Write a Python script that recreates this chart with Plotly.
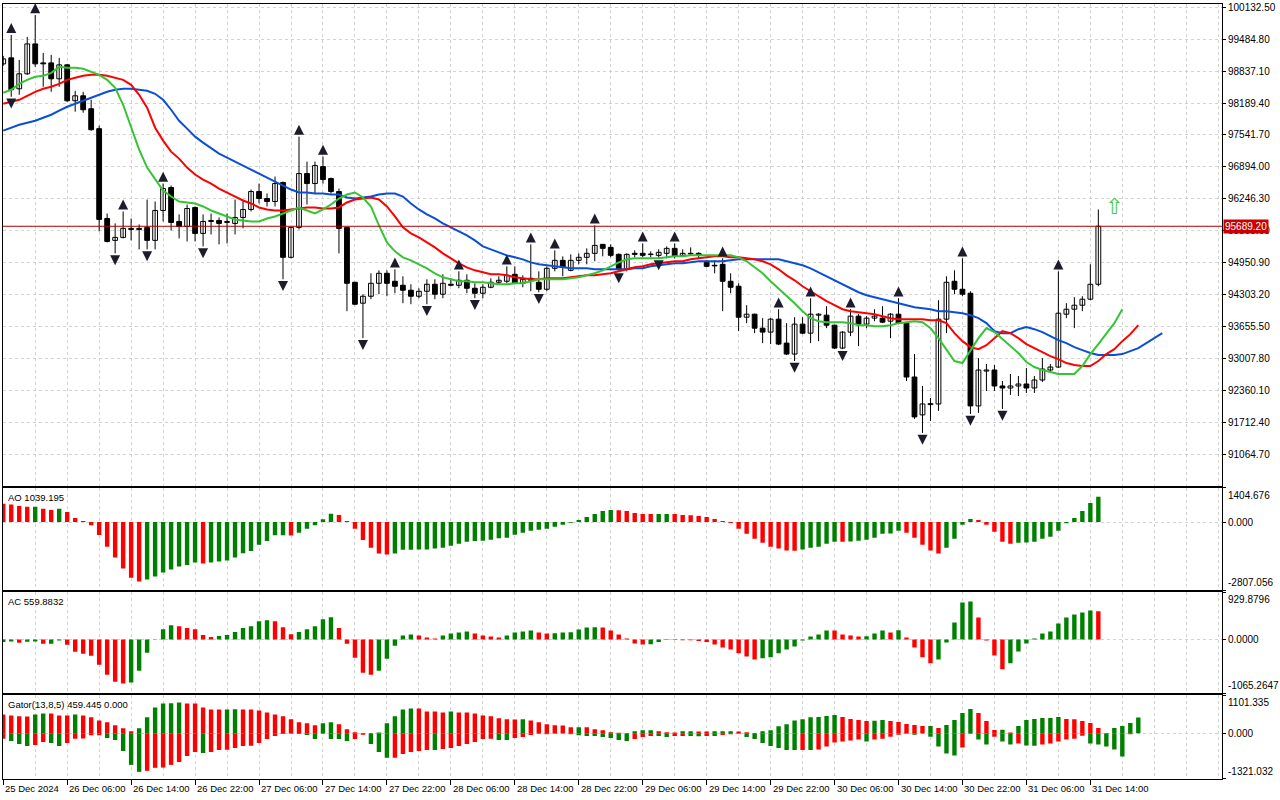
import plotly.graph_objects as go

# ---------------- data ----------------
tick_labels = ["25 Dec 2024", "26 Dec 06:00", "26 Dec 14:00", "26 Dec 22:00", "27 Dec 06:00",
               "27 Dec 14:00", "27 Dec 22:00", "28 Dec 06:00", "28 Dec 14:00", "28 Dec 22:00",
               "29 Dec 06:00", "29 Dec 14:00", "29 Dec 22:00", "30 Dec 06:00", "30 Dec 14:00",
               "30 Dec 22:00", "31 Dec 06:00", "31 Dec 14:00"]
tick_bars = [0, 8, 16, 24, 32, 40, 48, 56, 64, 72, 80, 88, 96, 104, 112, 120, 128, 136]

price_ticks = [91064.70, 91712.40, 92360.10, 93007.80, 93655.50, 94303.20, 94950.90, 95598.60,
               96246.30, 96894.00, 97541.70, 98189.40, 98837.10, 99484.80, 100132.50]

open_ = [98985, 99107, 98479, 98783, 99390, 99005, 99005, 98682, 98965, 98236,
         98337, 98074, 97670, 95848, 95403, 95463, 95646, 95646, 95666, 95403,
         96010, 96475, 95787, 95686, 96071, 95544, 95787, 95807, 95767, 95747,
         95868, 96030, 96394, 96253, 96192, 96577, 95059, 95666, 96759, 96556,
         96900, 96658, 96394, 95666, 94553, 94128, 94269, 94532, 94735, 94573,
         94492, 94391, 94269, 94370, 94512, 94310, 94512, 94492, 94593, 94431,
         94330, 94451, 94553, 94573, 94714, 94532, 94593, 94553, 94411, 94836,
         94998, 94795, 94998, 95059, 95140, 95322, 95261, 95119, 94816, 95140,
         95140, 95115, 95099, 95140, 95241, 95099, 95140, 95140, 94978, 94897,
         94917, 94573, 94472, 93844, 93905, 93621, 93541, 93804, 93318, 93096,
         93703, 93520, 93885, 93885, 93682, 93217, 93541, 93865, 93703, 93824,
         93824, 93763, 93905, 93723, 92630, 91861, 92070, 92083, 93804, 94573,
         94411, 94330, 92043, 92751, 92772, 92448, 92407, 92448, 92488, 92407,
         92569, 92772, 92832, 93905, 94006, 94087, 94209, 94512]
high = [99147, 99572, 99066, 99532, 99977, 99208, 99167, 99107, 98985, 98439,
        98418, 98256, 97730, 95949, 95747, 95990, 95848, 95726, 96232, 96192,
        96556, 96516, 95929, 96131, 96091, 95929, 95949, 95868, 95949, 96232,
        96232, 96435, 96556, 96354, 96698, 96597, 95680, 97508, 97002, 97002,
        97103, 96678, 96455, 95680, 94560, 94310, 94735, 94795, 94795, 94816,
        94674, 94512, 94431, 94613, 94613, 94714, 94633, 94775, 94714, 94532,
        94512, 94633, 94674, 94876, 94876, 94694, 95322, 94775, 94876, 95200,
        95079, 95119, 95140, 95241, 95706, 95330, 95322, 95140, 95140, 95200,
        95342, 95180, 95220, 95281, 95342, 95220, 95261, 95160, 95000, 94998,
        95038, 94735, 94532, 94087, 93915, 93824, 93824, 94006, 93723, 93844,
        93844, 94229, 93925, 94067, 93690, 93561, 94006, 93905, 93865, 94006,
        94067, 93925, 94229, 93730, 93096, 92448, 92205, 94188, 94674, 94795,
        95038, 94370, 93014, 92893, 92873, 92549, 92691, 92650, 92812, 92650,
        93014, 92893, 94775, 94128, 94249, 94269, 94917, 96030]
low = [98945, 98317, 98358, 98762, 98924, 98520, 98418, 98520, 98216, 98014,
       97993, 97629, 95585, 95362, 95140, 95443, 95403, 95220, 95220, 95220,
       95787, 95605, 95443, 95382, 95382, 95281, 95524, 95322, 95342, 95524,
       95646, 95990, 96152, 96091, 96091, 94613, 95038, 95625, 96131, 96354,
       96556, 96354, 95140, 93966, 94087, 93419, 94209, 94310, 94269, 94330,
       94128, 94107, 94229, 94107, 94209, 94229, 94472, 94431, 94330, 94229,
       94229, 94431, 94512, 94532, 94512, 94451, 94370, 94350, 94370, 94775,
       94674, 94775, 94917, 94917, 94978, 95079, 95059, 94775, 94775, 95059,
       95059, 95059, 95038, 95038, 95038, 95079, 95099, 95038, 94856, 94735,
       93966, 94330, 93561, 93723, 93520, 93318, 93298, 93277, 93075, 92954,
       93500, 93318, 93358, 93622, 93197, 93197, 93460, 93257, 93622, 93763,
       93723, 93419, 93703, 92549, 91780, 91496, 91739, 91942, 93520, 94310,
       94269, 91881, 91901, 92346, 92346, 91982, 92266, 92245, 92306, 92306,
       92529, 92711, 92812, 93824, 93622, 93966, 94188, 94472]
close = [99086, 98459, 98783, 99390, 98985, 98985, 98682, 98965, 98236, 98337,
         98054, 97649, 95828, 95382, 95463, 95646, 95625, 95625, 95403, 96010,
         96455, 95767, 95686, 96050, 95544, 95787, 95807, 95747, 95787, 95868,
         96030, 96394, 96253, 96192, 96556, 95059, 95666, 96759, 96556, 96921,
         96637, 96394, 95646, 94532, 94107, 94269, 94532, 94735, 94532, 94472,
         94391, 94269, 94370, 94512, 94310, 94532, 94492, 94593, 94431, 94330,
         94451, 94553, 94593, 94694, 94532, 94613, 94633, 94411, 94836, 94998,
         94856, 94998, 95059, 95140, 95301, 95241, 95099, 94816, 95119, 95119,
         95099, 95125, 95160, 95241, 95079, 95140, 95128, 95099, 94876, 94885,
         94573, 94451, 93844, 93905, 93621, 93541, 93804, 93298, 93096, 93703,
         93520, 93905, 93905, 93682, 93217, 93541, 93865, 93703, 93824, 93865,
         93743, 93905, 93723, 92630, 91820, 92083, 92090, 93804, 94553, 94411,
         94310, 92043, 92772, 92772, 92448, 92407, 92448, 92488, 92407, 92569,
         92792, 92832, 93925, 94006, 94087, 94209, 94512, 95689.20]

# Alligator (already shifted forward: jaw 8, teeth 5, lips 3 bars)
jaw = [97629, 97690, 97750, 97791, 97831, 97892, 97953, 98034, 98115, 98175,
       98236, 98297, 98358, 98418, 98459, 98479, 98479, 98459, 98439, 98378,
       98256, 98054, 97831, 97670, 97508, 97386, 97265, 97163, 97083, 97002,
       96921, 96840, 96759, 96678, 96597, 96516, 96435, 96374, 96374, 96354,
       96354, 96334, 96334, 96273, 96253, 96273, 96293, 96334, 96354, 96354,
       96293, 96152, 96030, 95929, 95848, 95747, 95666, 95585, 95504, 95403,
       95281, 95220, 95160, 95099, 95059, 95018, 94957, 94917, 94897, 94876,
       94856, 94836, 94836, 94836, 94816, 94816, 94816, 94816, 94816, 94836,
       94836, 94876, 94897, 94917, 94937, 94937, 94957, 94978, 94978, 94978,
       94978, 94998, 95018, 95018, 95018, 95018, 95018, 95018, 94978, 94937,
       94897, 94836, 94755, 94674, 94593, 94512, 94431, 94350, 94289, 94249,
       94209, 94168, 94128, 94087, 94047, 94026, 94006, 93966, 93966, 93945,
       93925, 93885, 93824, 93723, 93561, 93520, 93520, 93601, 93642, 93601,
       93541, 93460, 93379, 93318, 93237, 93176, 93116, 93075, 93075, 93075,
       93095, 93156, 93217, 93318, 93419, 93520]
teeth = [98175, 98216, 98256, 98337, 98418, 98479, 98520, 98580, 98661, 98702,
         98742, 98762, 98762, 98742, 98702, 98661, 98560, 98358, 98095, 97690,
         97427, 97204, 97062, 96880, 96739, 96637, 96556, 96455, 96374, 96293,
         96212, 96152, 96071, 96030, 96010, 96010, 96030, 96050, 96071, 96071,
         96050, 96050, 96071, 96172, 96232, 96253, 96273, 96232, 96091, 95889,
         95666, 95544, 95463, 95362, 95261, 95140, 95038, 94937, 94856, 94795,
         94755, 94714, 94714, 94694, 94654, 94633, 94613, 94613, 94633, 94633,
         94633, 94654, 94674, 94694, 94694, 94714, 94735, 94775, 94816, 94856,
         94876, 94917, 94937, 94957, 94978, 94978, 95018, 95038, 95059, 95079,
         95079, 95059, 95059, 95038, 95018, 94978, 94917, 94816, 94694, 94593,
         94472, 94370, 94269, 94168, 94087, 94006, 93966, 93945, 93925, 93905,
         93864, 93824, 93804, 93804, 93804, 93804, 93783, 93783, 93723, 93520,
         93358, 93237, 93196, 93277, 93419, 93561, 93520, 93419, 93298, 93217,
         93136, 93055, 92994, 92913, 92873, 92852, 92852, 92954, 93095, 93196,
         93358, 93500, 93682]
lips = [98398, 98459, 98580, 98661, 98722, 98742, 98803, 98924, 98904, 98904,
        98884, 98823, 98762, 98661, 98499, 98155, 97710, 97244, 96880, 96637,
        96415, 96293, 96192, 96172, 96152, 96091, 96010, 95949, 95888, 95828,
        95807, 95787, 95787, 95848, 95888, 95949, 96010, 96071, 96010, 95949,
        96030, 96131, 96253, 96334, 96374, 96273, 96091, 95706, 95362, 95180,
        95059, 94998, 94917, 94836, 94735, 94654, 94613, 94573, 94573, 94553,
        94553, 94532, 94512, 94512, 94532, 94532, 94573, 94613, 94613, 94613,
        94613, 94633, 94654, 94694, 94735, 94795, 94876, 94957, 95018, 95038,
        95038, 95038, 95038, 95059, 95079, 95079, 95099, 95099, 95099, 95099,
        95099, 95099, 95059, 94978, 94856, 94735, 94573, 94431, 94289, 94128,
        93966, 93824, 93763, 93743, 93743, 93743, 93723, 93682, 93682, 93662,
        93662, 93682, 93723, 93743, 93763, 93743, 93622, 93419, 93196, 92954,
        92913, 93156, 93419, 93622, 93541, 93399, 93257, 93116, 92933, 92832,
        92771, 92731, 92690, 92690, 92690, 92852, 93095, 93298, 93500, 93723,
        94006]

fractal_up_bars = [1, 4, 15, 20, 37, 40, 49, 57, 63, 66, 69, 74, 80, 84, 90, 97, 101, 106, 112, 120, 132]
fractal_down_bars = [1, 14, 18, 25, 35, 45, 53, 59, 67, 77, 82, 99, 105, 115, 121, 125]

signal_bar = [139]
signal_price = [96050]

ao = [750, 722, 654, 627, 630, 545, 490, 545, 409, 164,
      41, -136, -532, -1009, -1458, -1908, -2290, -2440, -2358, -2235,
      -2072, -1949, -1826, -1758, -1663, -1704, -1663, -1622, -1581, -1458,
      -1281, -1186, -927, -777, -545, -540, -550, -436, -273, -136,
      109, 341, 286, 41, -273, -736, -1050, -1295, -1336, -1295,
      -1140, -1135, -1130, -1125, -1090, -1050, -968, -886, -804, -777,
      -770, -722, -668, -641, -518, -436, -354, -313, -273, -191,
      -109, -27, 82, 204, 327, 450, 491, 485, 450, 368,
      330, 325, 328, 332, 327, 286, 280, 245, 204, 123,
      41, -41, -273, -477, -682, -845, -1009, -1090, -1172, -1175,
      -1131, -1050, -1009, -886, -804, -810, -800, -763, -722, -641,
      -477, -470, -354, -436, -641, -927, -1172, -1295, -1050, -682,
      -109, 123, 82, -109, -395, -804, -886, -845, -840, -804,
      -682, -600, -354, -55, 164, 450, 777, 1039.195]
ac = [-50, -40, -66, -46, -43, -86, -84, -20, -105, -243,
      -283, -322, -500, -697, -836, -875, -855, -619, -263, 3,
      204, 283, 263, 224, 204, 86, 46, 66, 86, 145,
      224, 263, 362, 382, 362, 243, 105, 145, 204, 263,
      401, 441, 224, -86, -362, -658, -697, -619, -382, -125,
      79, 99, 79, 39, 20, 79, 118, 138, 158, 118,
      79, 59, 39, 79, 138, 158, 178, 138, 118, 122,
      138, 142, 197, 237, 240, 236, 178, 99, 20, -79,
      -99, -95, -53, -13, -10, -14, -18, -33, -53, -99,
      -158, -197, -276, -336, -395, -375, -355, -276, -197, -138,
      -20, 59, 99, 178, 175, 99, 79, 59, 62, 118,
      178, 138, 180, 39, -158, -355, -474, -395, -59, 336,
      730, 750, 434, -20, -316, -592, -474, -237, -79, 20,
      118, 158, 316, 434, 493, 533, 572, 559.8832]
gator_up = [547, 518, 490, 485, 547, 576, 570, 518, 512, 547,
            518, 461, 374, 317, 230, 144, 58, 144, 461, 749,
            864, 870, 893, 864, 860, 749, 691, 686, 690, 695,
            690, 686, 662, 605, 547, 490, 403, 317, 288, 230,
            288, 317, 259, 115, 29, 10, 3, 20, 288, 490,
            691, 720, 715, 634, 630, 605, 634, 605, 600, 576,
            518, 490, 432, 403, 400, 405, 374, 317, 259, 230,
            226, 173, 178, 173, 115, 86, 29, 19, 5, 58,
            86, 90, 58, 29, 25, 58, 60, 55, 52, 57,
            60, 62, 55, 29, 10, 58, 86, 202, 259, 374,
            403, 465, 475, 499, 528, 470, 413, 384, 355, 360,
            384, 355, 326, 269, 240, 211, 215, 154, 240, 384,
            586, 701, 586, 355, 96, 100, 20, 211, 384, 413,
            442, 446, 470, 413, 410, 355, 298, 154, 5, 154,
            211, 298, 459.445]
gator_down = [-154, -221, -307, -365, -336, -250, -278, -365, -278, -154,
              -150, -58, -55, -134, -192, -509, -912, -1114, -1085, -998,
              -990, -912, -826, -653, -538, -566, -538, -480, -475, -422,
              -365, -360, -278, -163, -77, -19, -10, -19, -48, -163,
              -10, -163, -168, -221, -163, -38, -307, -538, -710, -705,
              -595, -538, -509, -480, -485, -451, -422, -365, -307, -250,
              -163, -160, -192, -195, -134, -106, -48, -10, -29, -10,
              -8, -29, -58, -77, -80, -106, -134, -192, -221, -163,
              -106, -77, -80, -106, -77, -75, -80, -82, -77, -80,
              -48, -29, -10, -106, -163, -278, -365, -422, -480, -485,
              -480, -485, -466, -384, -269, -240, -211, -182, -240, -182,
              -154, -96, -38, -10, -38, -8, -96, -384, -586, -643,
              -413, -10, -182, -326, -96, -240, -326, -298, -355, -360,
              -326, -298, -240, -182, -154, -67, -298, -326, -384, -470,
              -672, -29, 0]

ao_range = [-2807.056, 1404.676]
ac_range = [-1065.2647, 929.8796]
gator_range = [-1321.032, 1101.335]
main_range = [90423, 100200]

# ---------------- styling ----------------
FONT = "Liberation Sans"
GREEN = "#008000"
RED = "#ff0000"
GRID = "#d2d2d2"
FRAC_OFFSET = 240

def rise_colors(vals, first):
    out = [first]
    for a, b in zip(vals[:-1], vals[1:]):
        out.append(GREEN if b > a else RED)
    return out

def abs_rise_colors(vals, first):
    out = [first]
    for a, b in zip(vals[:-1], vals[1:]):
        out.append(GREEN if abs(b) > abs(a) else RED)
    return out

n = len(close)
idx = list(range(n))

fig = go.Figure()

# wicks
wx, wy = [], []
for i in idx:
    wx += [i, i, None]
    wy += [low[i], high[i], None]
fig.add_trace(go.Scatter(x=wx, y=wy, mode="lines", line=dict(color="black", width=1),
                         hoverinfo="skip", xaxis="x", yaxis="y"))

bull = [i for i in idx if close[i] >= open_[i]]
bear = [i for i in idx if close[i] < open_[i]]
fig.add_trace(go.Bar(x=bull, y=[close[i] - open_[i] for i in bull], base=[open_[i] for i in bull],
                     width=0.6, marker=dict(color="white", line=dict(color="black", width=1)),
                     xaxis="x", yaxis="y", hoverinfo="skip"))
fig.add_trace(go.Bar(x=bear, y=[open_[i] - close[i] for i in bear], base=[close[i] for i in bear],
                     width=0.6, marker=dict(color="black", line=dict(color="black", width=1)),
                     xaxis="x", yaxis="y", hoverinfo="skip"))

# alligator
fig.add_trace(go.Scatter(x=list(range(len(jaw))), y=jaw, mode="lines",
                         line=dict(color="#0b4fd6", width=2), xaxis="x", yaxis="y"))
fig.add_trace(go.Scatter(x=list(range(len(teeth))), y=teeth, mode="lines",
                         line=dict(color="#ff0000", width=2), xaxis="x", yaxis="y"))
fig.add_trace(go.Scatter(x=list(range(len(lips))), y=lips, mode="lines",
                         line=dict(color="#33c533", width=2), xaxis="x", yaxis="y"))

# fractals (arrow symbols have their tip at the data point)
fig.add_trace(go.Scatter(x=fractal_up_bars, y=[high[i] + FRAC_OFFSET for i in fractal_up_bars],
                         mode="markers", marker=dict(symbol="arrow-up", size=10, color="#1c1c2c"),
                         xaxis="x", yaxis="y"))
fig.add_trace(go.Scatter(x=fractal_down_bars, y=[low[i] - FRAC_OFFSET for i in fractal_down_bars],
                         mode="markers", marker=dict(symbol="arrow-down", size=10, color="#1c1c2c"),
                         xaxis="x", yaxis="y"))

# signal arrow
fig.add_trace(go.Scatter(x=signal_bar, y=signal_price, mode="text", text=["\u21e7"],
                         textfont=dict(family="DejaVu Sans", size=22, color="#44cc44"),
                         xaxis="x", yaxis="y"))

# AO
fig.add_trace(go.Bar(x=idx, y=ao, width=0.55, marker=dict(color=rise_colors(ao, RED), line=dict(width=0)),
                     xaxis="x2", yaxis="y2"))
# AC
fig.add_trace(go.Bar(x=idx, y=ac, width=0.55, marker=dict(color=rise_colors(ac, GREEN), line=dict(width=0)),
                     xaxis="x3", yaxis="y3"))
# Gator
fig.add_trace(go.Bar(x=list(range(len(gator_up))), y=gator_up, width=0.55,
                     marker=dict(color=rise_colors(gator_up, RED), line=dict(width=0)),
                     xaxis="x4", yaxis="y4"))
fig.add_trace(go.Bar(x=list(range(len(gator_down))), y=gator_down, width=0.55,
                     marker=dict(color=abs_rise_colors(gator_down, RED), line=dict(width=0)),
                     xaxis="x4", yaxis="y4"))

# ---------------- layout ----------------
W, H = 1280, 800
ML, MR, MT, MB = 2, 58, 2, 21
ph = H - MT - MB
def pdom(top_px, bot_px):
    return [(H - MB - bot_px) / ph, (H - MB - top_px) / ph]

x_range = [-0.03, 152.47]
xcommon = dict(range=x_range, tickmode="array", tickvals=tick_bars, showticklabels=False,
               showgrid=True, gridcolor=GRID, griddash="3px,3px", gridwidth=1,
               minor=dict(tick0=0, dtick=4, showgrid=True, gridcolor=GRID, griddash="3px,3px", ticks=""),
               showline=True, mirror=True, linecolor="black", linewidth=1, zeroline=False, fixedrange=True)
ycommon = dict(side="right", showline=True, mirror=True, linecolor="black", linewidth=1,
               zeroline=False, ticks="outside", ticklen=3, tickcolor="black",
               tickfont=dict(family=FONT, size=10, color="black"),
               showgrid=True, gridcolor=GRID, griddash="3px,3px", gridwidth=1, fixedrange=True)

layout = dict(
    width=W, height=H, margin=dict(l=ML, r=MR, t=MT, b=MB),
    paper_bgcolor="white", plot_bgcolor="white", showlegend=False, barmode="overlay",
    hovermode=False, font=dict(family=FONT, size=10, color="black"),
    xaxis=dict(xcommon, anchor="y", ticks=""),
    xaxis2=dict(xcommon, anchor="y2", matches="x", ticks=""),
    xaxis3=dict(xcommon, anchor="y3", matches="x", ticks=""),
    xaxis4=dict(xcommon, anchor="y4", matches="x", ticks="outside", ticklen=5, tickcolor="black"),
    yaxis=dict(ycommon, anchor="x", domain=pdom(2, 485), range=main_range,
               tickmode="array", tickvals=price_ticks, ticktext=[f"{v:.2f}" for v in price_ticks],
               ticklabeloverflow="allow"),
    yaxis2=dict(ycommon, anchor="x2", domain=pdom(487, 590), range=ao_range,
                tickmode="array", tickvals=[ao_range[1], 0, ao_range[0]], ticktext=["", "0.000", ""]),
    yaxis3=dict(ycommon, anchor="x3", domain=pdom(592, 693), range=ac_range,
                tickmode="array", tickvals=[ac_range[1], 0, ac_range[0]], ticktext=["", "0.0000", ""]),
    yaxis4=dict(ycommon, anchor="x4", domain=pdom(695, 779), range=gator_range,
                tickmode="array", tickvals=[gator_range[1], 0, gator_range[0]], ticktext=["", "0.000", ""]),
)
fig.update_layout(**layout)

# current price line
fig.add_shape(type="line", xref="x domain", yref="y", x0=0, x1=1, y0=close[-1], y1=close[-1],
              line=dict(color="#b00000", width=1))

ann = []
# current price label
ann.append(dict(xref="paper", yref="y", x=1, y=close[-1], xanchor="left", yanchor="middle", xshift=1,
                text=f"{close[-1]:.2f}", showarrow=False, bgcolor="#c80000", borderpad=1,
                font=dict(family=FONT, size=10, color="white")))
# indicator names
names = [("y2", f"AO {ao[-1]:.3f}"), ("y3", f"AC {ac[-1]:.4f}"),
         ("y4", f"Gator(13,8,5) {gator_up[-1]:.3f} {abs(gator_down[-1]):.3f}")]
for ax, txt in names:
    ann.append(dict(xref="paper", yref=f"{ax} domain", x=0, y=1, xanchor="left", yanchor="top",
                    xshift=3, yshift=-2, text=txt, showarrow=False,
                    font=dict(family=FONT, size=9.5, color="black")))
# indicator scale extremes
for ax, rng, fmt in [("y2", ao_range, "{:.3f}"), ("y3", ac_range, "{:.4f}"), ("y4", gator_range, "{:.3f}")]:
    ann.append(dict(xref="paper", yref=ax, x=1, y=rng[1], xanchor="left", yanchor="top", xshift=4,
                    text=fmt.format(rng[1]), showarrow=False, font=dict(family=FONT, size=10, color="black")))
    ann.append(dict(xref="paper", yref=ax, x=1, y=rng[0], xanchor="left", yanchor="bottom", xshift=4,
                    text=fmt.format(rng[0]), showarrow=False, font=dict(family=FONT, size=10, color="black")))
# time labels
for b, lab in zip(tick_bars, tick_labels):
    ann.append(dict(xref="x4", yref="paper", x=b, y=0, xanchor="left", yanchor="top", yshift=-2,
                    text=lab, showarrow=False, font=dict(family=FONT, size=9.5, color="black")))
fig.update_layout(annotations=ann)

fig.write_html("out.html", config={"displayModeBar": False, "staticPlot": True},
               post_script="document.body.style.margin='0';document.body.style.overflow='hidden';")
